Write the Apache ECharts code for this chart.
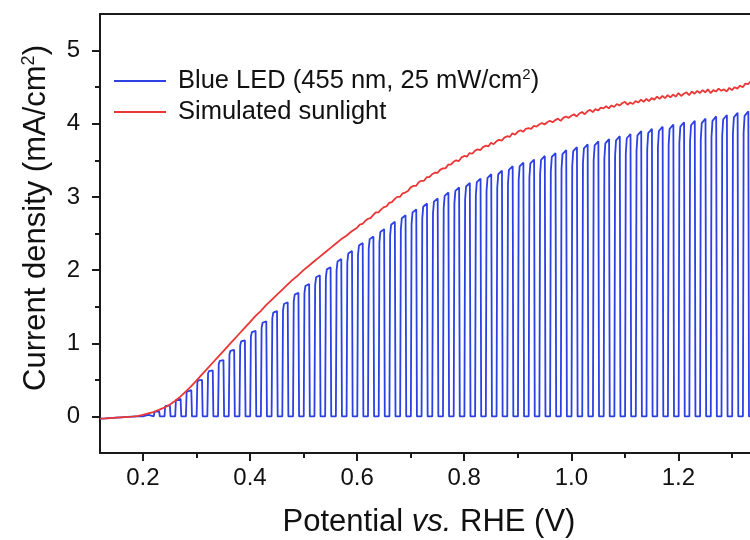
<!DOCTYPE html>
<html>
<head>
<meta charset="utf-8">
<script src="https://cdn.jsdelivr.net/npm/echarts@6/dist/echarts.min.js"></script>
<style>
  html, body { margin: 0; padding: 0; background: #fff; }
  #chart { width: 750px; height: 540px; }
</style>
</head>
<body>
<div id="chart"></div>
<script>
// Axis ticks (V vs. RHE and mA/cm2)
const potentialTicks = [0.2, 0.4, 0.6, 0.8, 1.0, 1.2];
const potentialMinorTicks = [0.3, 0.5, 0.7, 0.9, 1.1, 1.3];
const currentTicks = [0, 1, 2, 3, 4, 5];
const currentMinorTicks = [0.5, 1.5, 2.5, 3.5, 4.5];

// Simulated sunlight sweep: 0.12–0.59 V every 10 mV
const sunCoarseStart = 0.12, sunCoarseStep = 0.01;
const sunCoarseJ = [
  -0.03, -0.027, -0.022, -0.017, -0.012, -0.007, -0.002, 0.005, 0.02, 0.04,
  0.06, 0.09, 0.12, 0.16, 0.21, 0.27, 0.34, 0.41, 0.49, 0.57,
  0.65, 0.73, 0.81, 0.89, 0.97, 1.05, 1.13, 1.21, 1.29, 1.37,
  1.44, 1.52, 1.59, 1.66, 1.73, 1.80, 1.87, 1.93, 2.00, 2.06,
  2.12, 2.18, 2.24, 2.30, 2.36, 2.42, 2.47, 2.53
];
// Simulated sunlight sweep: 0.600–1.335 V every 5 mV
const sunFineStart = 0.60, sunFineStep = 0.005;
const sunFineJ = [
  2.58, 2.62, 2.63, 2.67, 2.70, 2.71, 2.75, 2.79, 2.79, 2.83,
  2.86, 2.87, 2.92, 2.93, 2.97, 3.00, 3.00, 3.05, 3.06, 3.08,
  3.13, 3.15, 3.15, 3.20, 3.22, 3.22, 3.27, 3.27, 3.31, 3.33,
  3.33, 3.37, 3.39, 3.39, 3.44, 3.44, 3.48, 3.50, 3.49, 3.54,
  3.56, 3.55, 3.60, 3.59, 3.63, 3.65, 3.64, 3.68, 3.70, 3.69,
  3.74, 3.72, 3.76, 3.78, 3.77, 3.81, 3.83, 3.82, 3.87, 3.85,
  3.89, 3.91, 3.89, 3.93, 3.94, 3.93, 3.97, 3.96, 3.99, 4.01,
  3.99, 4.02, 4.04, 4.02, 4.05, 4.07, 4.04, 4.08, 4.10, 4.08,
  4.11, 4.13, 4.10, 4.14, 4.16, 4.13, 4.17, 4.19, 4.16, 4.20,
  4.18, 4.22, 4.21, 4.24, 4.21, 4.25, 4.23, 4.27, 4.25, 4.28,
  4.30, 4.26, 4.29, 4.27, 4.31, 4.29, 4.33, 4.30, 4.34, 4.31,
  4.35, 4.33, 4.37, 4.34, 4.38, 4.35, 4.39, 4.36, 4.40, 4.37,
  4.42, 4.38, 4.41, 4.43, 4.39, 4.44, 4.41, 4.45, 4.42, 4.46,
  4.43, 4.47, 4.42, 4.46, 4.44, 4.48, 4.45, 4.47, 4.44, 4.49,
  4.46, 4.50, 4.48, 4.52, 4.50, 4.55, 4.54, 4.58
];

// Blue LED chopped sweep: dark current before the first pulse (0.12–0.20 V)
const ledDarkStart = 0.12, ledDarkStep = 0.01;
const ledDarkJ = [-0.03, -0.027, -0.022, -0.017, -0.012, -0.007, -0.003, 0.0, 0.0];
const ledOffJ = 0.0;
// Light-on pulses: centre potential of first pulse, chopping period, peak currents
const ledFirstPulse = 0.206, ledPeriod = 0.02, ledHalfOn = 0.005;
const ledPeakJ = [
  0.02, 0.07, 0.15, 0.24, 0.36, 0.50, 0.63, 0.77, 0.91, 1.04,
  1.17, 1.30, 1.44, 1.56, 1.69, 1.81, 1.93, 2.04, 2.15, 2.26,
  2.37, 2.46, 2.56, 2.66, 2.75, 2.83, 2.91, 2.98, 3.06, 3.13,
  3.19, 3.25, 3.31, 3.36, 3.42, 3.47, 3.51, 3.56, 3.60, 3.64,
  3.68, 3.72, 3.76, 3.79, 3.83, 3.86, 3.90, 3.93, 3.96, 3.99,
  4.02, 4.04, 4.07, 4.10, 4.12, 4.15, 4.17
];

const sunData = [];
sunCoarseJ.forEach((j, i) => sunData.push([sunCoarseStart + i * sunCoarseStep, j]));
sunFineJ.forEach((j, i) => sunData.push([sunFineStart + i * sunFineStep, j]));

const ledData = [];
ledDarkJ.forEach((j, i) => ledData.push([ledDarkStart + i * ledDarkStep, j]));
ledPeakJ.forEach((p, k) => {
  const c = ledFirstPulse + k * ledPeriod;
  ledData.push(
    [c - ledHalfOn - 0.0006, ledOffJ],
    [c - ledHalfOn + 0.0007, p * 0.93],
    [c - ledHalfOn + 0.0025, p * 0.985],
    [c + ledHalfOn - 0.0005, p],
    [c + ledHalfOn + 0.0007, ledOffJ]
  );
});
ledData.push([1.34, ledOffJ]);

const axisColor = '#1a1a1a';
const fontFamily = '"Liberation Sans", Arial, sans-serif';
const blue = '#2c40e4';
const red = '#ec3535';

const chart = echarts.init(document.getElementById('chart'), null, { renderer: 'canvas' });

const xBase = { type: 'value', min: 0.12, max: 1.3336, gridIndex: 0, splitLine: { show: false } };
const yBase = { type: 'value', min: -0.5, max: 5.5, gridIndex: 0, position: 'left', splitLine: { show: false } };

chart.setOption({
  animation: false,
  backgroundColor: '#ffffff',
  textStyle: { fontFamily },
  grid: { left: 100, right: 0, top: 14, bottom: 87, show: false },
  xAxis: [
    Object.assign({}, xBase, {
      position: 'bottom',
      axisLine: { show: true, onZero: false, lineStyle: { color: axisColor, width: 2 } },
      axisTick: { show: true, inside: false, length: 8, customValues: potentialTicks, lineStyle: { color: axisColor, width: 2 } },
      axisLabel: { show: true, customValues: potentialTicks, margin: 13, fontSize: 24, color: '#111',
        fontFamily, formatter: v => v.toFixed(1) }
    }),
    Object.assign({}, xBase, {
      position: 'bottom',
      axisLine: { show: false, onZero: false },
      axisTick: { show: true, inside: false, length: 5, customValues: potentialMinorTicks, lineStyle: { color: axisColor, width: 2 } },
      axisLabel: { show: false }
    }),
    Object.assign({}, xBase, {
      position: 'top',
      axisLine: { show: true, onZero: false, lineStyle: { color: axisColor, width: 2 } },
      axisTick: { show: false },
      axisLabel: { show: false }
    })
  ],
  yAxis: [
    Object.assign({}, yBase, {
      axisLine: { show: true, onZero: false, lineStyle: { color: axisColor, width: 2 } },
      axisTick: { show: true, inside: false, length: 8, customValues: currentTicks, lineStyle: { color: axisColor, width: 2 } },
      axisLabel: { show: true, customValues: currentTicks, margin: 20, fontSize: 24, color: '#111',
        fontFamily, formatter: v => String(v) }
    }),
    Object.assign({}, yBase, {
      axisLine: { show: false, onZero: false },
      axisTick: { show: true, inside: false, length: 5, customValues: currentMinorTicks, lineStyle: { color: axisColor, width: 2 } },
      axisLabel: { show: false }
    })
  ],
  legend: {
    orient: 'vertical',
    left: 114, top: 67,
    padding: 0,
    itemGap: 3,
    icon: 'rect',
    itemWidth: 52, itemHeight: 2,
    data: ['Blue LED', 'Simulated sunlight'],
    formatter: name => name === 'Blue LED'
      ? '{t|Blue LED (455 nm, 25 mW/cm}{s|2}{t|)}'
      : '{t|Simulated sunlight}',
    textStyle: {
      color: '#111', fontFamily, fontSize: 25.5, lineHeight: 28, padding: [0, 0, 0, 7],
      rich: {
        t: { fontSize: 25.5, lineHeight: 28, color: '#111', fontFamily },
        s: { fontSize: 15, lineHeight: 28, color: '#111', fontFamily, verticalAlign: 'top', padding: [0, 0, 10, 0] }
      }
    }
  },
  graphic: [
    {
      type: 'text', x: 36, y: 218, rotation: Math.PI / 2,
      style: {
        text: '{t|Current density (mA/cm}{s|2}{t|)}',
        align: 'center', verticalAlign: 'middle', fill: '#111',
        rich: {
          t: { fontSize: 31, fontFamily, fill: '#111', lineHeight: 36 },
          s: { fontSize: 18, fontFamily, fill: '#111', lineHeight: 36, padding: [0, 0, 14, 0] }
        }
      }
    },
    {
      type: 'text', x: 429, y: 522,
      style: {
        text: '{t|Potential }{i|vs.}{t| RHE (V)}',
        align: 'center', verticalAlign: 'middle', fill: '#111',
        rich: {
          t: { fontSize: 31, fontFamily, fill: '#111' },
          i: { fontSize: 31, fontFamily, fill: '#111', fontStyle: 'italic' }
        }
      }
    }
  ],
  series: [
    {
      name: 'Blue LED', type: 'line', data: ledData, symbol: 'none', showSymbol: false,
      xAxisIndex: 0, yAxisIndex: 0, clip: true,
      lineStyle: { color: blue, width: 1.8 }, itemStyle: { color: blue }, z: 2
    },
    {
      name: 'Simulated sunlight', type: 'line', data: sunData, symbol: 'none', showSymbol: false,
      xAxisIndex: 0, yAxisIndex: 0, clip: true,
      lineStyle: { color: red, width: 1.8 }, itemStyle: { color: red }, z: 3
    }
  ]
});
</script>
</body>
</html>
